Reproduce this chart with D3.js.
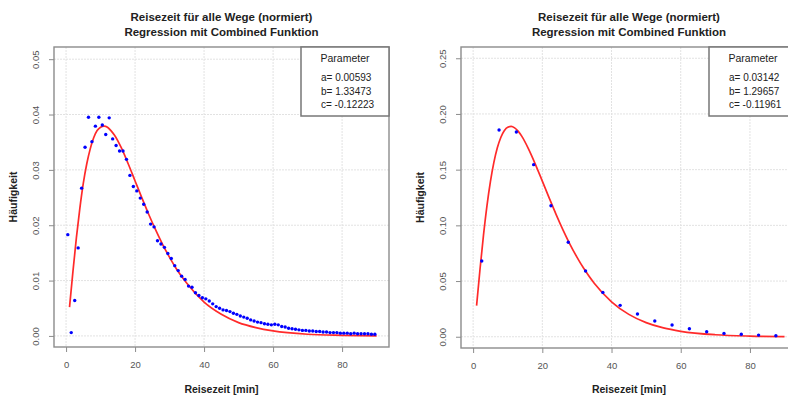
<!DOCTYPE html>
<html>
<head>
<meta charset="utf-8">
<script src="https://d3js.org/d3.v7.min.js"></script>
<style>
  body { margin: 0; background: #fff; }
  svg { display: block; font-family: "Liberation Sans", Arial, sans-serif; }
</style>
</head>
<body>
<div id="chart"></div>
<script>
// observed values, left panel (1 min classes)
const leftObsX = [0.5, 1.5, 2.5, 3.5, 4.5, 5.5, 6.5, 7.5, 8.5, 9.5,
  10.5, 11.5, 12.5, 13.5, 14.5, 15.5, 16.5, 17.5, 18.5, 19.5,
  20.5, 21.5, 22.5, 23.5, 24.5, 25.5, 26.5, 27.5, 28.5, 29.5,
  30.5, 31.5, 32.5, 33.5, 34.5, 35.5, 36.5, 37.5, 38.5, 39.5,
  40.5, 41.5, 42.5, 43.5, 44.5, 45.5, 46.5, 47.5, 48.5, 49.5,
  50.5, 51.5, 52.5, 53.5, 54.5, 55.5, 56.5, 57.5, 58.5, 59.5,
  60.5, 61.5, 62.5, 63.5, 64.5, 65.5, 66.5, 67.5, 68.5, 69.5,
  70.5, 71.5, 72.5, 73.5, 74.5, 75.5, 76.5, 77.5, 78.5, 79.5,
  80.5, 81.5, 82.5, 83.5, 84.5, 85.5, 86.5, 87.5, 88.5, 89.5];
const leftObsY = [0.0183, 0.0006, 0.0064, 0.0159, 0.0267, 0.0341, 0.0395, 0.0351, 0.0379, 0.0395,
  0.0381, 0.0364, 0.0394, 0.0356, 0.0344, 0.0334, 0.0334, 0.0319, 0.0290, 0.0270,
  0.0262, 0.0249, 0.0238, 0.0224, 0.0202, 0.0197, 0.0172, 0.0166, 0.0160, 0.0149,
  0.0140, 0.0127, 0.0118, 0.0108, 0.0102, 0.0090, 0.0088, 0.0078, 0.0073, 0.0069,
  0.0067, 0.0063, 0.0058, 0.0053, 0.0050, 0.0047, 0.0046, 0.0044, 0.0041, 0.0039,
  0.0036, 0.0034, 0.0032, 0.0029, 0.0027, 0.0025, 0.0024, 0.0022, 0.0021, 0.0020,
  0.0021, 0.0020, 0.0017, 0.0016, 0.0014, 0.0013, 0.0012, 0.0011, 0.0010, 0.0010,
  0.0009, 0.0009, 0.0008, 0.0008, 0.0007, 0.0007, 0.0006, 0.0006, 0.0006, 0.0005,
  0.0005, 0.0005, 0.0004, 0.0005, 0.0004, 0.0004, 0.0004, 0.0004, 0.0003, 0.0003];

// fitted curve, left panel
const leftFitX = [1, 2, 3, 4, 5, 6, 7, 8, 9, 10, 11, 12, 13, 14, 16, 18, 20, 22, 24, 26, 28, 30, 32, 35, 40, 45, 50, 55, 60, 70, 80, 90];
const leftFitY = [0.0052, 0.0117, 0.0178, 0.0231, 0.0276, 0.0311, 0.0338, 0.0358, 0.0371, 0.0377, 0.0379, 0.0377, 0.0371, 0.0363,
  0.0340, 0.0311, 0.0280, 0.0249, 0.0219, 0.0191, 0.0165, 0.0142, 0.0121, 0.0095, 0.0061, 0.0039, 0.0024, 0.0015, 0.0009,
  0.0003, 0.0001, 0.0000];

// observed values, right panel (5 min classes)
const rightObsX = [2.5, 7.5, 12.5, 17.5, 22.5, 27.5, 32.5, 37.5, 42.5, 47.5, 52.5, 57.5, 62.5, 67.5, 72.5, 77.5, 82.5, 87.5];
const rightObsY = [0.0680, 0.1856, 0.1838, 0.1545, 0.1176, 0.0848, 0.0590, 0.0398, 0.0282, 0.0204,
  0.0141, 0.0105, 0.0072, 0.0045, 0.0030, 0.0022, 0.0015, 0.0009];

// fitted curve, right panel
const rightFitX = [1, 2, 3, 4, 5, 6, 7, 8, 9, 10, 11, 12, 13, 14, 16, 18, 20, 22, 24, 26, 28, 30, 32, 35, 40, 45, 50, 55, 60, 70, 80, 90];
const rightFitY = [0.0279, 0.0608, 0.0912, 0.1175, 0.1392, 0.1565, 0.1696, 0.1789, 0.1849, 0.1881, 0.1888, 0.1875, 0.1846, 0.1803,
  0.1687, 0.1548, 0.1397, 0.1245, 0.1097, 0.0958, 0.0830, 0.0715, 0.0612, 0.0480, 0.0314, 0.0201, 0.0127, 0.0079, 0.0049,
  0.0018, 0.0006, 0.0002];

const xTicks = [0, 20, 40, 60, 80];
const leftYTicks = [0.00, 0.01, 0.02, 0.03, 0.04, 0.05];
const rightYTicks = [0.00, 0.05, 0.10, 0.15, 0.20, 0.25];

const paramNames = ["a", "b", "c"];
const leftParams = ["0.00593", "1.33473", "-0.12223"];
const rightParams = ["0.03142", "1.29657", "-0.11961"];

const title1 = "Reisezeit für alle Wege (normiert)";
const title2 = "Regression mit Combined Funktion";

var w = 788,
	h = 396;

let svg = d3.select("#chart")
			.append("svg")
			.attr("width", w)
			.attr("height", h);

function drawPanel(p) {
	let g = svg.append("g");

	let xScale = d3.scaleLinear()
				   .domain([-3.5, 93.6])
				   .range([p.left, p.right]);

	let yScale = d3.scaleLinear()
				   .domain(p.yDomain)
				   .range([p.bottom, p.top]);

	// grid
	g.append("g")
	 .selectAll("line")
	 .data(xTicks)
	 .enter()
	 .append("line")
	 .attr("x1", (d) => xScale(d))
	 .attr("x2", (d) => xScale(d))
	 .attr("y1", p.top)
	 .attr("y2", p.bottom)
	 .attr("stroke", "#e2e2e2")
	 .attr("stroke-dasharray", "2,1");

	g.append("g")
	 .selectAll("line")
	 .data(p.yTicks)
	 .enter()
	 .append("line")
	 .attr("x1", p.left)
	 .attr("x2", p.right)
	 .attr("y1", (d) => yScale(d))
	 .attr("y2", (d) => yScale(d))
	 .attr("stroke", "#e2e2e2")
	 .attr("stroke-dasharray", "2,1");

	// axes
	let xAxis = d3.axisBottom(xScale)
				  .tickValues(xTicks)
				  .tickSize(5)
				  .tickPadding(9);

	let yAxis = d3.axisLeft(yScale)
				  .tickValues(p.yTicks)
				  .tickSize(5)
				  .tickFormat(d3.format(".2f"));

	let gx = g.append("g")
			  .attr("transform", "translate(0," + p.bottom + ")")
			  .call(xAxis);

	let gy = g.append("g")
			  .attr("transform", "translate(" + p.left + ",0)")
			  .call(yAxis);

	[gx, gy].forEach(function(a){
		a.select(".domain").remove();
		a.selectAll("line").attr("stroke", "#8c8c8c");
		a.selectAll("text")
		 .attr("fill", "#555")
		 .style("font-size", "9.5px")
		 .style("font-family", "'Liberation Sans', Arial, sans-serif");
	});

	gy.selectAll("text")
	  .attr("x", 0)
	  .attr("dy", 0)
	  .attr("text-anchor", "middle")
	  .attr("transform", "translate(-15.5,0) rotate(-90)");

	// frame
	g.append("rect")
	 .attr("x", p.left)
	 .attr("y", p.top)
	 .attr("width", p.right - p.left)
	 .attr("height", p.bottom - p.top)
	 .attr("fill", "none")
	 .attr("stroke", "#8c8c8c")
	 .attr("stroke-width", 1.4);

	// fitted curve
	let line = d3.line()
				 .x((d, i) => xScale(p.fitX[i]))
				 .y((d) => yScale(d))
				 .curve(d3.curveMonotoneX);

	g.append("path")
	 .datum(p.fitY)
	 .attr("d", line)
	 .attr("fill", "none")
	 .attr("stroke", "#ff2a2a")
	 .attr("stroke-width", 1.7);

	// observed points
	g.append("g")
	 .selectAll("circle")
	 .data(p.obsY)
	 .enter()
	 .append("circle")
	 .attr("cx", (d, i) => xScale(p.obsX[i]))
	 .attr("cy", (d) => yScale(d))
	 .attr("r", 1.7)
	 .attr("fill", "#0000ff");

	// legend
	let lx = p.right - 88;
	g.append("rect")
	 .attr("x", lx)
	 .attr("y", p.top)
	 .attr("width", 88)
	 .attr("height", 69)
	 .attr("fill", "#fff")
	 .attr("stroke", "#777")
	 .attr("stroke-width", 1.5);

	g.append("text")
	 .attr("x", lx + 44)
	 .attr("y", p.top + 15)
	 .attr("text-anchor", "middle")
	 .attr("fill", "#222")
	 .style("font-size", "10.5px")
	 .text("Parameter");

	g.append("g")
	 .selectAll("text")
	 .data(p.params)
	 .enter()
	 .append("text")
	 .attr("x", lx + 20)
	 .attr("y", (d, i) => p.top + 34 + i * 13.7)
	 .attr("fill", "#222")
	 .style("font-size", "10px")
	 .text((d, i) => paramNames[i] + "= " + d);

	// titles
	let cx = (p.left + p.right) / 2;
	[title1, title2].forEach(function(t, i){
		g.append("text")
		 .attr("x", cx)
		 .attr("y", 21 + i * 15)
		 .attr("text-anchor", "middle")
		 .attr("fill", "#222")
		 .style("font-size", "11.5px")
		 .style("font-weight", "bold")
		 .text(t);
	});

	g.append("text")
	 .attr("x", cx)
	 .attr("y", 393)
	 .attr("text-anchor", "middle")
	 .attr("fill", "#222")
	 .style("font-size", "10.5px")
	 .style("font-weight", "bold")
	 .text("Reisezeit [min]");

	g.append("text")
	 .attr("transform", "translate(" + (p.left - 37) + "," + ((p.top + p.bottom) / 2) + ") rotate(-90)")
	 .attr("text-anchor", "middle")
	 .attr("fill", "#222")
	 .style("font-size", "10.5px")
	 .style("font-weight", "bold")
	 .text("Häufigkeit");
}

drawPanel({
	left: 54, right: 389, top: 47, bottom: 347,
	yDomain: [-0.002, 0.0522],
	yTicks: leftYTicks,
	obsX: leftObsX, obsY: leftObsY,
	fitX: leftFitX, fitY: leftFitY,
	params: leftParams
});

drawPanel({
	left: 461, right: 797, top: 47, bottom: 348,
	yDomain: [-0.0101, 0.2601],
	yTicks: rightYTicks,
	obsX: rightObsX, obsY: rightObsY,
	fitX: rightFitX, fitY: rightFitY,
	params: rightParams
});
</script>
</body>
</html>
